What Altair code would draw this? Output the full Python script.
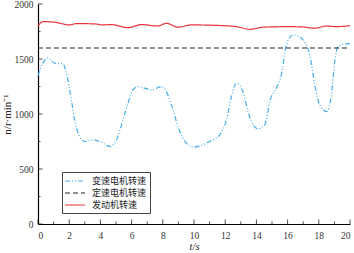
import altair as alt
import pandas as pd

# variable-speed motor speed
blue_t = [0, 0.3, 0.64, 1.07, 1.6, 1.82, 2.14, 2.35, 2.67, 3.0, 3.53, 3.96, 4.6, 5.03, 5.45,
          5.77, 6.09, 6.41, 6.84, 7.27, 7.91, 8.23, 8.65, 8.97, 9.29, 9.94, 10.26, 11.0, 11.65,
          12.08, 12.4, 12.72, 13.04, 13.25, 13.46, 13.68, 14.1, 14.53, 14.92, 15.28, 15.6, 15.92,
          16.35, 16.88, 17.42, 17.74, 18.06, 18.49, 18.81, 19.02, 19.23, 19.66, 20]
blue_v = [1350, 1460, 1510, 1462, 1455, 1371, 1129, 947, 795, 750, 765, 750, 705, 765, 947,
          1099, 1219, 1249, 1235, 1219, 1249, 1204, 1038, 886, 781, 699, 705, 750, 811,
          947, 1159, 1280, 1235, 1144, 1022, 932, 865, 902, 1144, 1235, 1356, 1628,
          1719, 1689, 1537, 1265, 1083, 1022, 1174, 1476, 1613, 1637, 1640]

# fixed-speed motor speed
black_t = [0, 20]
black_v = [1600, 1600]

# engine speed
red_t = [0, 0.32, 1.07, 2.03, 2.46, 3.63, 4.17, 4.7, 5.77, 6.63, 7.69, 8.23, 8.97, 9.83,
         11.86, 12.72, 13.57, 14.43, 16.13, 16.99, 17.74, 18.49, 19.13, 20]
red_v = [1800, 1840, 1834, 1810, 1822, 1819, 1810, 1813, 1785, 1813, 1800, 1825, 1789, 1810,
         1803, 1794, 1770, 1789, 1794, 1791, 1780, 1800, 1794, 1803]

names = ["变速电机转速", "定速电机转速", "发动机转速"]
colors = ["#45aee8", "#222222", "#e8323a"]
dashes = [[5, 2, 1, 2, 1, 2], [5, 3], [1, 0]]

y_major = [0, 500, 1000, 1500, 2000]
y_minor = [250, 750, 1250, 1750]
x_major = [0, 2, 4, 6, 8, 10, 12, 14, 16, 18, 20]
x_minor = [1, 3, 5, 7, 9, 11, 13, 15, 17, 19]

rows = []
for name, ts, vs in zip(names, [blue_t, black_t, red_t], [blue_v, black_v, red_v]):
    for i, (t, v) in enumerate(zip(ts, vs)):
        rows.append({"t": t, "v": v, "s": name, "o": i})
df = pd.DataFrame(rows)

FONT = "Liberation Serif, Times New Roman, serif"

xscale = alt.Scale(domain=[0, 20], nice=False, zero=False)
yscale = alt.Scale(domain=[0, 2000], nice=False)

xaxis = alt.Axis(values=x_major, title="t/s", tickSize=0, labelPadding=6,
                 titlePadding=2, format="d", labelOverlap=False,
                 labelFont=FONT, titleFont=FONT, titleFontStyle="italic")
yaxis = alt.Axis(values=y_major, title="n/r·min⁻¹", tickSize=0, labelPadding=5,
                 titlePadding=2, format="d", labelOverlap=False,
                 labelFont=FONT, titleFont=FONT, titleFontSize=11)

X = alt.X("t:Q", scale=xscale, axis=xaxis)
Y = alt.Y("v:Q", scale=yscale, axis=yaxis)

lines = alt.Chart(df).mark_line(strokeWidth=1.2, interpolate="monotone").encode(
    x=X, y=Y,
    color=alt.Color("s:N", scale=alt.Scale(domain=names, range=colors),
                    legend=alt.Legend(title=None, orient="none", legendX=24, legendY=168,
                                      symbolType="M-2,0H2", symbolSize=100,
                                      symbolOffset=4,
                                      symbolStrokeWidth=1.2, labelFont="Noto Sans CJK SC",
                                      labelFontSize=9, labelColor="#222",
                                      strokeColor="#444", fillColor="white",
                                      padding=3, rowPadding=1, labelOffset=11)),
    strokeDash=alt.StrokeDash("s:N", scale=alt.Scale(domain=names, range=dashes)),
    order="o:Q",
)

ymaj = alt.Chart(pd.DataFrame({"v": y_major})).mark_tick(
    color="black", thickness=1, size=4.5, orient="horizontal").encode(y=Y, x=alt.value(2.25))
ymin = alt.Chart(pd.DataFrame({"v": y_minor})).mark_tick(
    color="black", thickness=1, size=2.5, orient="horizontal").encode(y=Y, x=alt.value(1.25))
xmaj = alt.Chart(pd.DataFrame({"t": x_major})).mark_tick(
    color="black", thickness=1, size=4.5, orient="vertical").encode(x=X, y=alt.value(217.75))
xmin = alt.Chart(pd.DataFrame({"t": x_minor})).mark_tick(
    color="black", thickness=1, size=2.5, orient="vertical").encode(x=X, y=alt.value(218.75))

chart = alt.layer(lines, ymaj, ymin, xmaj, xmin).properties(
    width=312, height=220,
    autosize=alt.AutoSizeParams(type="none"),
    padding={"left": 38, "top": 4, "right": 4, "bottom": 29},
    background="white",
).configure_view(stroke=None).configure_axis(
    grid=False, domainColor="black", domainWidth=1.2,
    labelFont=FONT, labelFontSize=9.5, labelColor="#333",
    titleFont=FONT, titleFontSize=10.5, titleFontWeight="normal", titleColor="#222",
)

chart.save("out.html", embed_options={"renderer": "svg", "actions": False})
